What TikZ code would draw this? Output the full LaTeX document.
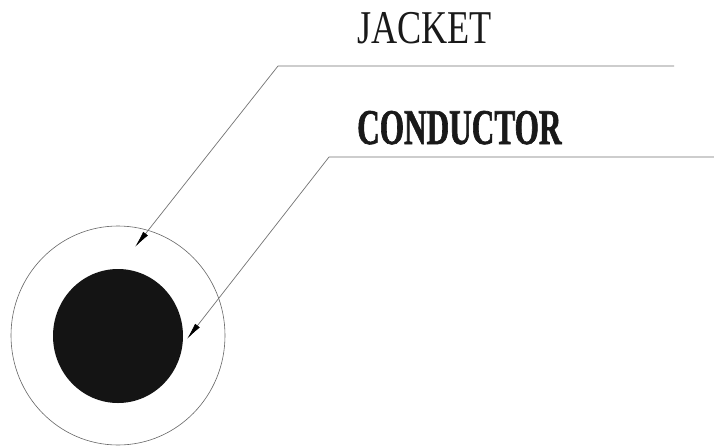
\documentclass[tikz,border=0pt]{standalone}
\usepackage{fontspec}
\setmainfont{Liberation Serif}
\usetikzlibrary{arrows.meta,shapes.geometric}
\tikzset{lead/.style={draw=black!55,line width=0.7pt,-{Latex[length=17pt,width=6pt,black]}},
 lbl/.style={inner sep=0pt,anchor=base west,text=black!90}}
\begin{document}
\begin{tikzpicture}[x=1pt,y=-1pt]
\useasboundingbox (0,0) rectangle (714,447);
\fill[white] (0,0) rectangle (714,447);
\node[ellipse,draw=black!60,line width=0.6pt,minimum width=214pt,minimum height=219pt,inner sep=0pt] (jacket) at (118,335.5) {};
\node[ellipse,fill=black!92,minimum width=130pt,minimum height=134pt,inner sep=0pt] (cond) at (118,336) {};
\coordinate (j0) at (674,66);
\coordinate (j1) at (278,66);
\coordinate (j2) at (135,247);
\coordinate (c0) at (714,157);
\coordinate (c1) at (329,157);
\coordinate (c2) at (187,339);
\draw[lead] (j0) -- (j1) -- (j2);
\draw[lead] (c0) -- (c1) -- (c2);
\node[lbl] (jt) at (357,43) {\fontsize{47}{47}\selectfont\addfontfeature{FakeStretch=0.77}JACKET};
\node[lbl] (ct) at (357,144) {\fontsize{50}{50}\selectfont\bfseries\addfontfeature{FakeStretch=0.625,FakeBold=1.2}CONDUCTOR};
\end{tikzpicture}
\end{document}
